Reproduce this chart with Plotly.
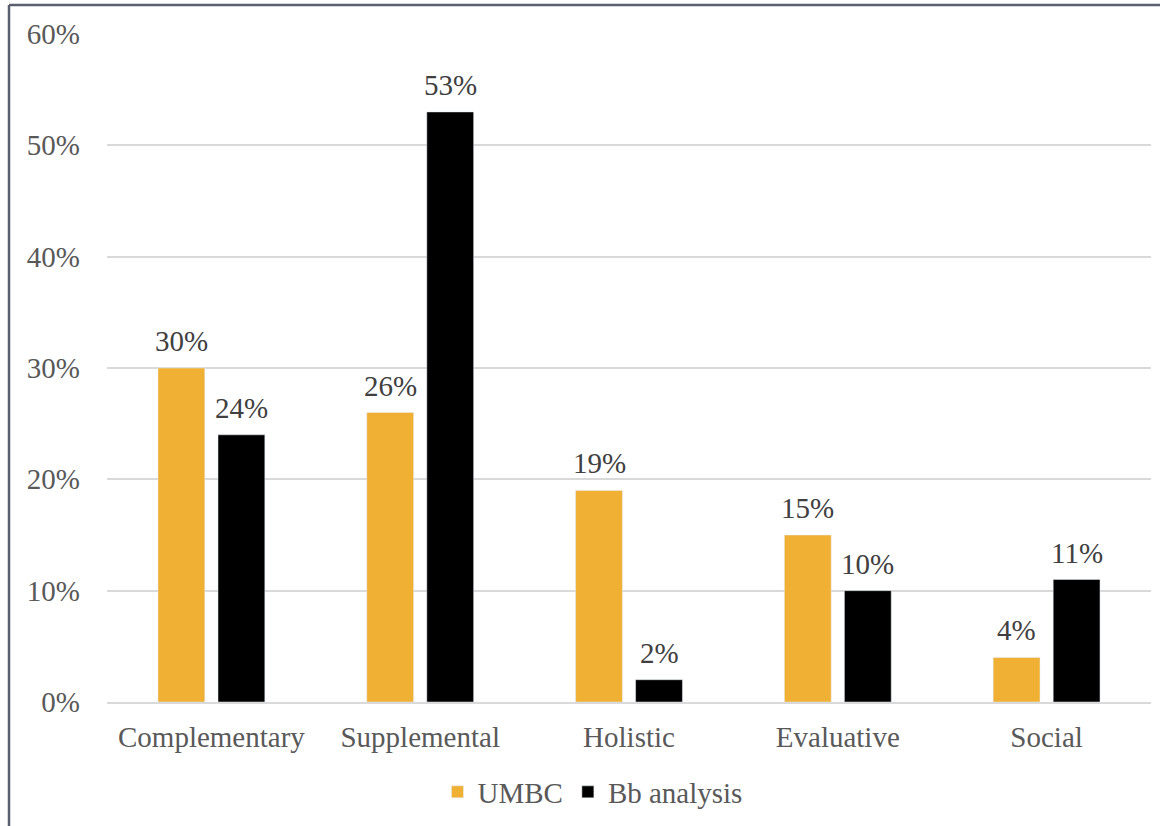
import plotly.graph_objects as go

categories = ["Complementary", "Supplemental", "Holistic", "Evaluative", "Social"]
umbc = [30, 26, 19, 15, 4]
bb_analysis = [24, 53, 2, 10, 11]
y_ticks = [0, 10, 20, 30, 40, 50, 60]
y_tick_labels = ["0%", "10%", "20%", "30%", "40%", "50%", "60%"]

SERIF = "Liberation Serif, Times New Roman, serif"
FS = 29
W, H = 1160, 826
ML, MR, MT, MB = 107, 9, 34, 124
PW, PH = W - ML - MR, H - MT - MB

series = [
    ("UMBC", umbc, "#F0B034", -30),
    ("Bb analysis", bb_analysis, "#000000", 30),
]

fig = go.Figure()
for name, values, color, dx in series:
    fig.add_trace(go.Bar(name=name, x=categories, y=values, marker_color=color))
    # value labels above each bar
    for cat, v in zip(categories, values):
        fig.add_annotation(x=cat, y=v, text=f"{v}%", showarrow=False,
                           xshift=dx, yshift=9, yanchor="bottom",
                           font=dict(family=SERIF, size=FS, color="#404040"))

# frame lines on the left and top edges of the chart
bx = (9 - ML) / PW
by = 1 + (MT - 5) / PH
fig.add_shape(type="line", xref="paper", yref="paper", x0=bx, x1=bx, y0=by, y1=-(MB + 5) / PH,
              line=dict(color="#5A6070", width=2.5))
fig.add_shape(type="line", xref="paper", yref="paper", x0=bx, x1=(W - ML + 5) / PW, y0=by, y1=by,
              line=dict(color="#5A6070", width=2.5))

fig.update_layout(
    width=W, height=H,
    margin=dict(l=ML, r=MR, t=MT, b=MB),
    paper_bgcolor="white", plot_bgcolor="white",
    barmode="group", bargap=0.425, bargroupgap=0.22,
    font=dict(family=SERIF, size=FS, color="#595959"),
    xaxis=dict(showgrid=False, showline=True, linecolor="#D9D9D9", linewidth=2,
               ticks="", ticklabelstandoff=8,
               tickfont=dict(family=SERIF, size=FS, color="#595959")),
    yaxis=dict(range=[0, 60], tickvals=y_ticks, ticktext=y_tick_labels,
               showgrid=True, gridcolor="#D9D9D9", gridwidth=2, zeroline=False,
               showline=False, ticks="", ticklabelstandoff=26,
               tickfont=dict(family=SERIF, size=FS, color="#595959")),
    legend=dict(orientation="h", x=0.465, xanchor="center", y=(702 - 792) / PH, yanchor="middle",
                font=dict(family=SERIF, size=FS, color="#595959"), itemwidth=30),
    showlegend=True,
)

fig.write_html("out.html")
